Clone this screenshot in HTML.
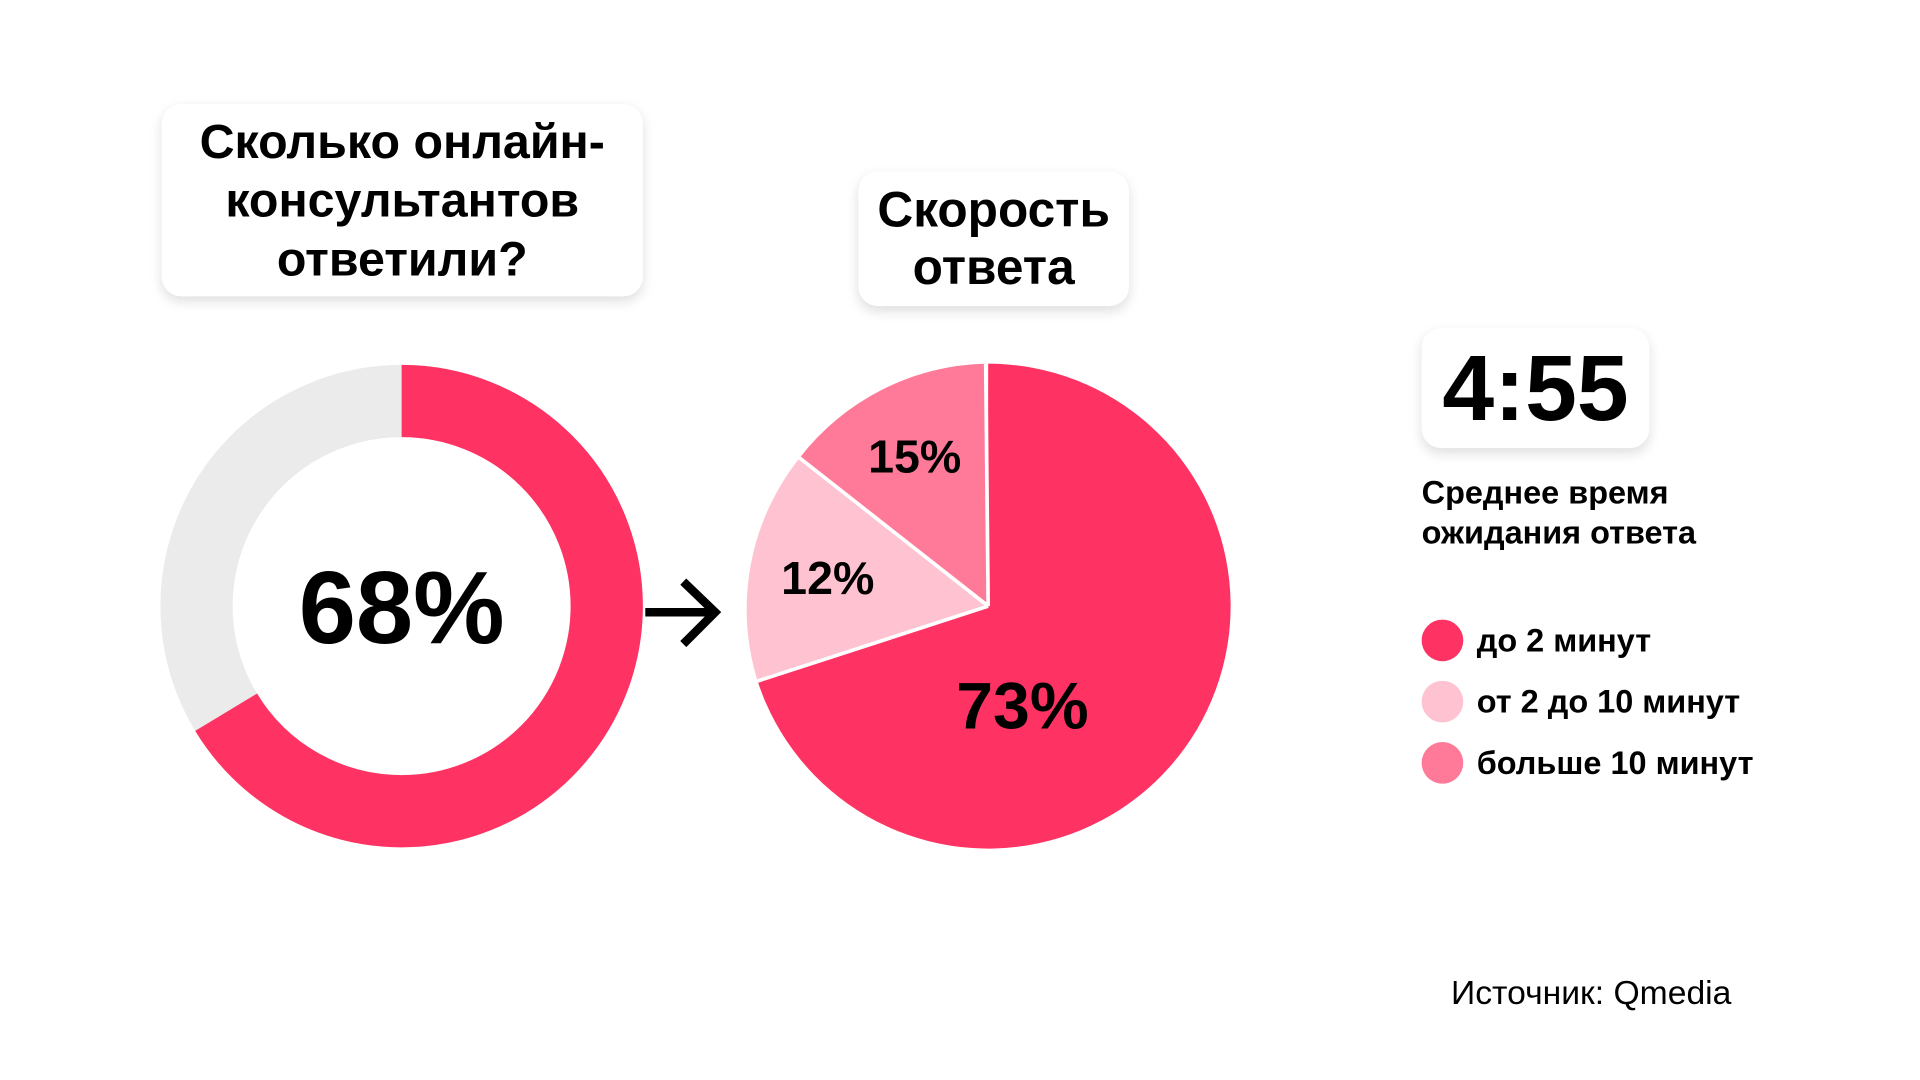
<!DOCTYPE html>
<html><head><meta charset="utf-8"><style>
html,body{margin:0;padding:0;background:#fff;overflow:hidden}
#s{position:absolute;left:0;top:0;width:1568px;height:882px;transform:scale(1.22449);transform-origin:0 0;font-family:"Liberation Sans","DejaVu Sans",sans-serif;color:#000}
.box{position:absolute;background:#fff;border-radius:16px;box-shadow:0 4px 10px rgba(0,0,0,0.13);font-weight:bold;text-align:center;display:flex;align-items:center;justify-content:center}
.t{position:absolute;font-weight:bold;white-space:nowrap}
.dot{position:absolute;width:34px;height:34px;border-radius:50%}
</style></head><body><div id="s">
<div class="box" style="left:132px;top:85px;width:393px;height:157px;font-size:39.5px;line-height:48px">Сколько онлайн-<br>консультантов<br>ответили?</div>
<div class="box" style="left:701px;top:140px;width:221px;height:110px;font-size:40.5px;line-height:47px">Скорость<br>ответа</div>
<div class="box" style="left:1161px;top:268px;width:186px;height:98px;font-size:76px;">4:55</div>
<svg width="1568" height="882" style="position:absolute;left:0;top:0">
<circle cx="328" cy="495" r="167.5" fill="none" stroke="#EBEBEB" stroke-width="59"/>
<circle cx="328" cy="495" r="167.5" fill="none" stroke="#FF3363" stroke-width="59" stroke-dasharray="698 2000" transform="rotate(-90 328 495)"/>
<path d="M807,495 L807,297 A198,198 0 1 1 618.7,556.2 Z" fill="#FF3363"/>
<path d="M807,495 L618.7,556.2 A198,198 0 0 1 653,374 Z" fill="#FFC2D1"/>
<path d="M807,495 L653,374 A198,198 0 0 1 805,297 Z" fill="#FF7A99"/>
<g stroke="#fff" stroke-width="3"><line x1="807" y1="495" x2="618.7" y2="556.2"/><line x1="807" y1="495" x2="653" y2="374"/><line x1="807" y1="495" x2="805" y2="297"/></g>
<g stroke="#000" stroke-width="7" fill="none" stroke-linecap="butt"><line x1="527" y1="500" x2="582" y2="500"/><polyline points="558,475 584,500 558,526"/></g>
</svg>
<div class="t" style="left:178px;top:448px;width:300px;text-align:center;font-size:84px;line-height:96px">68%</div>
<div class="t" style="left:735px;top:545px;width:200px;text-align:center;font-size:54px;line-height:64px">73%</div>
<div class="t" style="left:697px;top:351px;width:100px;text-align:center;font-size:38px;line-height:46px">15%</div>
<div class="t" style="left:626px;top:450px;width:100px;text-align:center;font-size:38px;line-height:46px">12%</div>
<div class="t" style="left:1161px;top:386px;font-size:26.5px;line-height:33px">Среднее время<br>ожидания ответа</div>
<div class="dot" style="left:1161px;top:506px;background:#FF3363"></div>
<div class="dot" style="left:1161px;top:556px;background:#FFC2D1"></div>
<div class="dot" style="left:1161px;top:606px;background:#FF7A99"></div>
<div class="t" style="left:1206px;top:507px;font-size:26.5px;line-height:32px">до 2 минут</div>
<div class="t" style="left:1206px;top:557px;font-size:26.5px;line-height:32px">от 2 до 10 минут</div>
<div class="t" style="left:1206px;top:607px;font-size:26.5px;line-height:32px">больше 10 минут</div>
<div class="t" style="left:1185px;top:795px;font-size:27.5px;line-height:32px;font-weight:normal">Источник: Qmedia</div>
</div></body></html>
